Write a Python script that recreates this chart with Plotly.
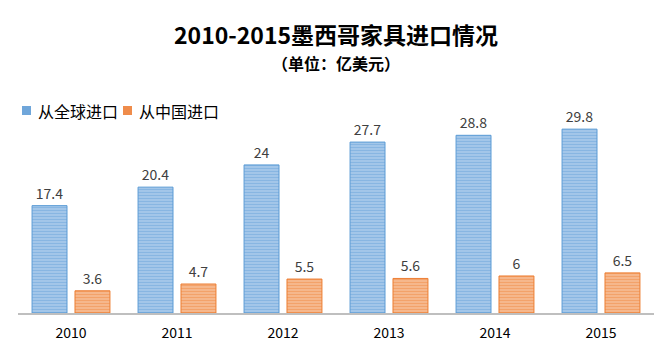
import plotly.graph_objects as go

years = ["2010", "2011", "2012", "2013", "2014", "2015"]
world = [17.4, 20.4, 24, 27.7, 28.8, 29.8]
china = [3.6, 4.7, 5.5, 5.6, 6, 6.5]
world_labels = ["17.4", "20.4", "24", "27.7", "28.8", "29.8"]
china_labels = ["3.6", "4.7", "5.5", "5.6", "6", "6.5"]
series_names = ["从全球进口", "从中国进口"]
title_text = "2010-2015墨西哥家具进口情况"
subtitle_text = "（单位：亿美元）"

FONT = "Noto Sans CJK SC"
BLUE, BLUE_L, BLUE_M = "#5B9BD5", "#B4D1EE", "#6FA6DA"
ORANGE, ORANGE_L, ORANGE_M = "#ED7D31", "#F8C6A2", "#EF8C4B"

W, H = 667, 350
ML, MR, MT, MB = 18, 13, 110, 37
PH = H - MT - MB

def py(p):  # pixel y -> paper y
    return (H - MB - p) / PH

def px(p):  # pixel x -> paper x
    return (p - ML) / (W - ML - MR)

fig = go.Figure()
for vals, labels, name, c, cl in [(world, world_labels, series_names[0], BLUE, BLUE_L),
                                  (china, china_labels, series_names[1], ORANGE, ORANGE_L)]:
    fig.add_trace(go.Bar(
        x=years, y=vals, name=name,
        text=labels, textposition="outside",
        textfont=dict(size=14, color="#404040", family=FONT),
        marker=dict(color=c, line=dict(color=c, width=1),
                    pattern=dict(shape="-", fgcolor=c, bgcolor=cl, size=3, solidity=0.6)),
        cliponaxis=False, showlegend=False,
    ))

annotations = [
    dict(text="<b>" + title_text + "</b>", x=0.5, xref="paper", y=py(34), yref="paper",
         xanchor="center", yanchor="middle", showarrow=False,
         font=dict(size=23, color="#000000", family=FONT)),
    dict(text="<b>" + subtitle_text + "</b>", x=0.5, xref="paper", y=py(63), yref="paper",
         xanchor="center", yanchor="middle", showarrow=False,
         font=dict(size=16, color="#000000", family=FONT)),
]
shapes = []
legend_x = [22, 123]
for (lx, name, cm) in zip(legend_x, series_names, [BLUE_M, ORANGE_M]):
    shapes.append(dict(type="rect", xref="paper", yref="paper",
                       x0=px(lx), x1=px(lx + 9), y0=py(115), y1=py(106),
                       fillcolor=cm, line=dict(width=0)))
    annotations.append(dict(text=name, x=px(lx + 14), xref="paper", y=py(110.5), yref="paper",
                            xanchor="left", yanchor="middle", showarrow=False,
                            font=dict(size=16, color="#000000", family=FONT)))

fig.update_layout(
    width=W, height=H,
    margin=dict(l=ML, r=MR, t=MT, b=MB, autoexpand=False),
    paper_bgcolor="white", plot_bgcolor="white",
    barmode="group", bargap=0.19, bargroupgap=0.186,
    font=dict(family=FONT, color="#404040"),
    showlegend=False,
    annotations=annotations, shapes=shapes,
    xaxis=dict(
        showline=True, linecolor="#BFBFBF", linewidth=2,
        ticks="", tickfont=dict(size=14, color="#000000", family=FONT),
        ticklabelstandoff=6, showgrid=False, automargin=False,
    ),
    yaxis=dict(range=[0, 32.9], visible=False, showgrid=False, zeroline=False, automargin=False),
)

fig.write_html("out.html")
